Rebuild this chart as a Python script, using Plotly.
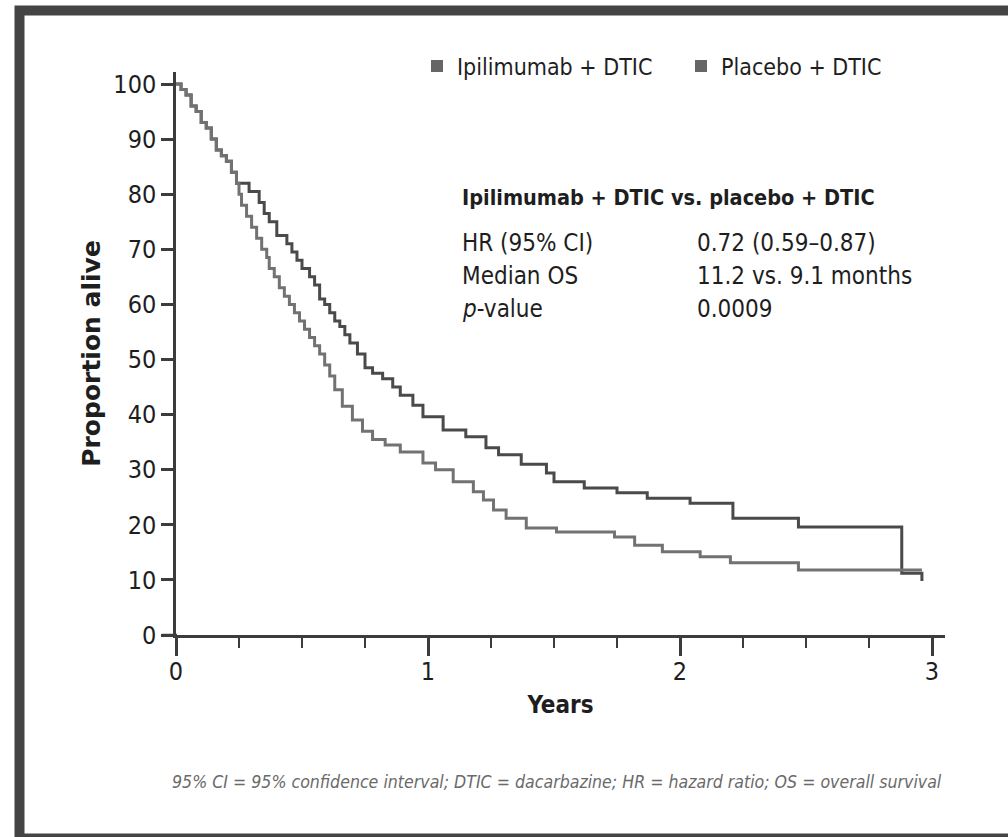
import plotly.graph_objects as go

# ---- data ----
ipi_years = [0, 0.02, 0.04, 0.06, 0.08, 0.10, 0.12, 0.14, 0.16, 0.18,
             0.20, 0.22, 0.24, 0.29, 0.33, 0.35, 0.37, 0.40, 0.44, 0.46,
             0.48, 0.50, 0.53, 0.55, 0.57, 0.59, 0.61, 0.63, 0.65, 0.67,
             0.69, 0.72, 0.75, 0.78, 0.82, 0.86, 0.89, 0.94, 0.98, 1.06,
             1.15, 1.23, 1.28, 1.37, 1.47, 1.50, 1.62, 1.75, 1.87, 2.04,
             2.21, 2.47, 2.88, 2.96]
ipi_alive = [100, 99, 98, 96, 95, 93, 92, 90, 88, 87,
             86, 84, 82, 80.5, 78.5, 76.5, 75, 72.5, 71, 69.5,
             68, 66.5, 65, 63.5, 61, 60, 58.5, 57, 56, 54.5,
             53, 51, 48.5, 47.5, 46.5, 45, 43.5, 41.7, 39.6, 37.2,
             36, 34, 32.7, 31, 29.4, 27.8, 26.7, 25.8, 24.8, 23.9,
             21.2, 19.6, 11.2, 9.8]

pla_years = [0, 0.02, 0.04, 0.06, 0.08, 0.10, 0.12, 0.14, 0.16, 0.18,
             0.20, 0.22, 0.24, 0.25, 0.26, 0.28, 0.30, 0.32, 0.34, 0.36,
             0.37, 0.39, 0.41, 0.43, 0.45, 0.47, 0.49, 0.51, 0.53, 0.55,
             0.57, 0.59, 0.61, 0.63, 0.66, 0.70, 0.74, 0.78, 0.83, 0.89,
             0.98, 1.03, 1.10, 1.18, 1.22, 1.26, 1.31, 1.39, 1.51, 1.74,
             1.82, 1.93, 2.08, 2.20, 2.47, 2.96]
pla_alive = [100, 99, 98, 96, 95, 93, 92, 90, 88, 87,
             86, 84, 82, 80, 78, 76, 74, 72, 70, 68.5,
             66.5, 65, 63, 61.5, 60, 58.5, 57, 55.5, 54, 52.5,
             51, 49, 47, 44.5, 41.5, 39, 37, 35.5, 34.5, 33.2,
             31.2, 30, 27.8, 26, 24.5, 22.7, 21.2, 19.4, 18.7, 17.8,
             16.3, 15.1, 14.2, 13.1, 11.8, 11.8]

series_names = ["Ipilimumab + DTIC", "Placebo + DTIC"]
stats_title = "Ipilimumab + DTIC vs. placebo + DTIC"
stats_labels = ["HR (95% CI)", "Median OS", "<i>p</i>-value"]
stats_values = ["0.72 (0.59\u20130.87)", "11.2 vs. 9.1 months", "0.0009"]
footnote = ("95% CI = 95% confidence interval; DTIC = dacarbazine; "
            "HR = hazard ratio; OS = overall survival")
x_ticks = [0, 1, 2, 3]
y_ticks = list(range(0, 101, 10))

# ---- layout geometry (pixels) ----
W, H = 1008, 837
L, R, T, B = 176, 945, 72, 635
PX_PER_YEAR = 252.0
PX_PER_PCT = 5.51


def px2x(px):
    return (px - L) / (R - L)


def py2y(py):
    return (B - py) / (B - T)


COND = "Liberation Sans Narrow, DejaVu Sans Condensed, Arial Narrow, sans-serif"
AXC = "#3c3c3c"
IPI_C = "#4a4a4a"
PLA_C = "#727272"
TXT = "#1e1e1e"

fig = go.Figure()
fig.add_trace(go.Scatter(x=ipi_years, y=ipi_alive, mode="lines",
                         line=dict(color=IPI_C, width=3, shape="hv"),
                         showlegend=False, name=series_names[0]))
fig.add_trace(go.Scatter(x=pla_years, y=pla_alive, mode="lines",
                         line=dict(color=PLA_C, width=3, shape="hv"),
                         showlegend=False, name=series_names[1]))
# legend entries (square swatches)
for nm in series_names:
    fig.add_trace(go.Scatter(x=[None], y=[None], mode="markers", name=nm,
                             marker=dict(symbol="square", size=13, color="#666666"),
                             showlegend=True))

annots = []
annots.append(dict(x=px2x(460), y=py2y(197), xref="paper", yref="paper",
                   xanchor="left", yanchor="middle", showarrow=False,
                   text="<b>" + stats_title + "</b>",
                   font=dict(family=COND, size=21.5, color=TXT)))
for i, (lab, val) in enumerate(zip(stats_labels, stats_values)):
    yy = 243 + i * 33
    annots.append(dict(x=px2x(460), y=py2y(yy), xref="paper", yref="paper",
                       xanchor="left", yanchor="middle", showarrow=False,
                       text=lab, font=dict(family=COND, size=24, color=TXT)))
    annots.append(dict(x=px2x(695), y=py2y(yy), xref="paper", yref="paper",
                       xanchor="left", yanchor="middle", showarrow=False,
                       text=val, font=dict(family=COND, size=24, color=TXT)))
annots.append(dict(x=px2x(170), y=py2y(782), xref="paper", yref="paper",
                   xanchor="left", yanchor="middle", showarrow=False,
                   text="<i>" + footnote + "</i>",
                   font=dict(family=COND, size=17.6, color="#6a6a6a")))

shapes = [
    # outer dark frame
    dict(type="rect", xref="paper", yref="paper",
         x0=px2x(19.5), x1=px2x(1030), y0=py2y(838.5), y1=py2y(10.5),
         line=dict(color="#444444", width=10), fillcolor="rgba(0,0,0,0)",
         layer="below"),
    # x axis line extension to the left of the y axis
    dict(type="line", xref="paper", yref="paper",
         x0=px2x(162), x1=px2x(177), y0=0, y1=0,
         line=dict(color=AXC, width=2.5)),
]

fig.update_layout(
    width=W, height=H,
    margin=dict(l=L, r=W - R, t=T, b=H - B, pad=0),
    plot_bgcolor="white", paper_bgcolor="white",
    font=dict(family=COND, color=TXT),
    legend=dict(orientation="h", x=px2x(417), y=py2y(66), xanchor="left",
                yanchor="middle", font=dict(family=COND, size=23, color=TXT),
                itemsizing="constant", bgcolor="rgba(0,0,0,0)",
                itemwidth=30, tracegroupgap=0,
                entrywidth=219, entrywidthmode="pixels"),
    annotations=annots,
    shapes=shapes,
)

fig.update_xaxes(
    range=[0, (R - L) / PX_PER_YEAR], tickvals=x_ticks,
    ticks="outside", ticklen=18, tickwidth=2.5, tickcolor=AXC,
    showline=True, linecolor=AXC, linewidth=2.5, showgrid=False, zeroline=False,
    tickfont=dict(family=COND, size=25, color=TXT),
    ticklabelstandoff=-6,
    minor=dict(dtick=0.25, tick0=0, ticks="outside", ticklen=10, tickwidth=2,
               tickcolor=AXC, showgrid=False),
    title=dict(text="<b>Years</b>", font=dict(family=COND, size=24, color=TXT),
               standoff=12),
    fixedrange=True,
)
fig.update_yaxes(
    range=[0, (B - T) / PX_PER_PCT], tickvals=y_ticks,
    ticks="outside", ticklen=12, tickwidth=2.5, tickcolor=AXC,
    showline=True, linecolor=AXC, linewidth=2.5, showgrid=False, zeroline=False,
    tickfont=dict(family=COND, size=25, color=TXT),
    title=dict(text="<b>Proportion alive</b>",
               font=dict(family="DejaVu Sans", size=25, color=TXT),
               standoff=6),
    fixedrange=True,
)

fig.write_html("out.html", config={"displayModeBar": False},
               post_script="document.body.style.margin='0';document.body.style.overflow='hidden';")
